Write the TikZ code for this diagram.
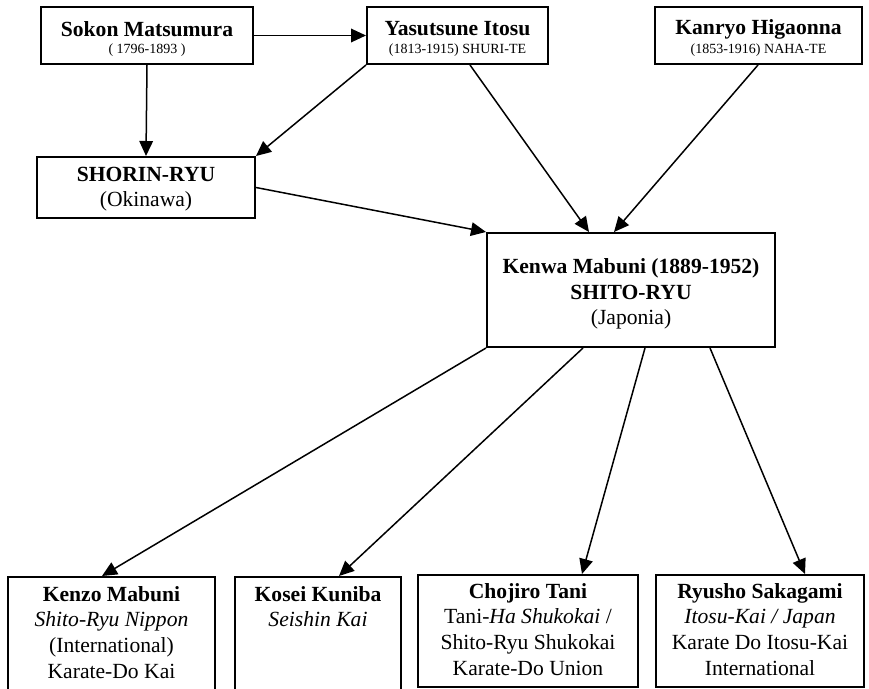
\documentclass[tikz,border=0pt]{standalone}
\usepackage{fontspec}
\setmainfont{Liberation Serif}
\usetikzlibrary{arrows.meta,fit,calc}
\begin{document}
\begin{tikzpicture}[x=0.5bp,y=-0.5bp,
  box/.style={draw, line width=1bp, inner sep=0pt},
  txt/.style={font=\fontsize{10.8bp}{12.8bp}\selectfont, align=center, inner sep=0pt},
  small/.style={font=\fontsize{7bp}{8bp}\selectfont, inner sep=0pt},
  arr/.style={line width=0.75bp, -{Triangle[length=7.5bp,width=6.8bp]}}
]
\useasboundingbox (0,0) rectangle (869,689);
\clip (0,0) rectangle (869,689);
% boxes
\node[box, fit={(41,7) (253,64)}] (sokon) {};
\node[box, fit={(367,7) (548,64)}] (yasu) {};
\node[box, fit={(655,7) (862,64)}] (kanryo) {};
\node[box, fit={(37,157) (255,218)}] (shorin) {};
\node[box, fit={(487,233) (775,347)}] (kenwa) {};
\node[box, fit={(8,577) (215,705)}] (kenzo) {};
\node[box, fit={(235,577) (401,705)}] (kosei) {};
\node[box, fit={(418,575) (638,687)}] (chojiro) {};
\node[box, fit={(656,575) (864,687)}] (ryusho) {};
% texts
\node[txt] (sokonT) at (147,29) {\textbf{Sokon Matsumura}};
\node[small] (sokonS) at (147,50) {( 1796-1893 )};
\node[txt] (yasuT) at (457.5,29) {\textbf{Yasutsune Itosu}};
\node[small] (yasuS) at (457.5,50) {(1813-1915) SHURI-TE};
\node[txt] (kanryoT) at (758.5,29) {\textbf{Kanryo Higaonna}};
\node[small] (kanryoS) at (758.5,50) {(1853-1916) NAHA-TE};
\node[txt] (shorinT) at (146,189) {\textbf{SHORIN-RYU}\\(Okinawa)};
\node[txt] (kenwaT) at (631,294) {\textbf{Kenwa Mabuni (1889-1952)}\\\textbf{SHITO-RYU}\\(Japonia)};
\node[txt, anchor=north] (kenzoT) at (111.5,586) {\textbf{Kenzo Mabuni}\\\textit{Shito-Ryu Nippon}\\(International)\\Karate-Do Kai};
\node[txt, anchor=north] (koseiT) at (318,586) {\textbf{Kosei Kuniba}\\\textit{Seishin Kai}};
\node[txt, anchor=north] (chojiroT) at (528,583) {\textbf{Chojiro Tani}\\Tani-\textit{Ha Shukokai} /\\Shito-Ryu Shukokai\\Karate-Do Union};
\node[txt, anchor=north] (ryushoT) at (760,583) {\textbf{Ryusho Sakagami}\\\textit{Itosu-Kai / Japan}\\Karate Do Itosu-Kai\\International};
% connectors
\draw[arr] (sokon.east) -- (yasu.west);
\draw[arr] (sokon.south) -- (shorin.north);
\draw[arr] (yasu.south west) -- (shorin.north east);
\draw[arr] ($(yasu.south west)+(104,0)$) -- ($(kenwa.north west)+(103,0)$);
\draw[arr] ($(kanryo.south west)+(104,0)$) -- ($(kenwa.north west)+(128,0)$);
\draw[arr] (shorin.east) -- (kenwa.north west);
\draw[arr] (kenwa.south west) -- ($(kenzo.north west)+(95,0)$);
\draw[arr] ($(kenwa.south west)+(97,0)$) -- ($(kosei.north west)+(105,0)$);
\draw[arr] ($(kenwa.south west)+(159,0)$) -- ($(chojiro.north west)+(165,0)$);
\draw[arr] ($(kenwa.south west)+(224,0)$) -- ($(ryusho.north west)+(150,0)$);
\end{tikzpicture}
\end{document}
